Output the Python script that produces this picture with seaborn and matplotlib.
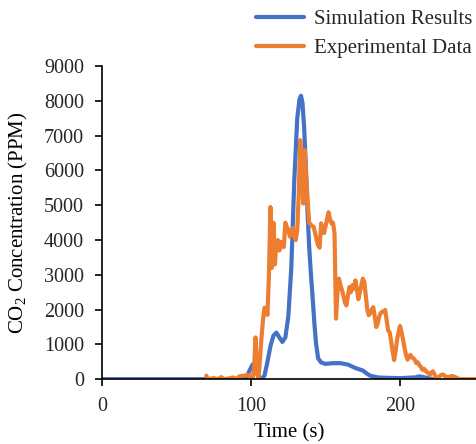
import pandas as pd
import matplotlib.pyplot as plt
import seaborn as sns

# data
sim_time = [0, 95, 97, 99, 101, 103, 105, 107, 109, 111, 113, 115, 117, 119, 121, 123,
            125, 127, 129, 131, 132.5, 133.5, 134.5, 135.6, 136.7, 137.8, 139, 140.2, 141.4,
            142.5, 143.6, 145, 147, 150, 155, 160, 165, 170, 175, 178, 180, 185, 190, 200,
            210, 213, 218, 222]
sim_co2 = [0, 0, 50, 250, 420, 300, 50, 20, 100, 500, 950, 1250, 1340, 1200, 1070, 1200,
           1800, 3200, 5700, 7500, 8050, 8150, 7950, 7250, 6200, 4900, 3800, 3000, 2300,
           1600, 1030, 600, 480, 440, 460, 460, 420, 320, 250, 150, 100, 50, 40, 30,
           50, 80, 40, 0]

exp_time = [70, 71, 75, 78, 80, 82, 85, 88, 90, 92, 95, 98, 100, 101, 102, 103, 104, 105,
            106, 107, 108, 109, 110, 111, 112, 113, 114, 115, 116, 117, 118, 119, 120, 121,
            122, 123, 124, 125, 126, 127, 128, 129, 130, 131, 132, 133, 134, 135, 136, 137,
            138, 139, 140, 141, 142, 143, 144, 145, 146, 147, 148, 149, 150, 151, 152, 153,
            154, 155, 156, 157, 158, 159, 160, 161, 162, 163, 164, 165, 166, 167, 168, 169,
            170, 171, 172, 173, 174, 175, 176, 177, 178, 179, 180, 181, 182, 183, 184, 185,
            186, 187, 188, 189, 190, 191, 192, 193, 194, 195, 196, 197, 198, 199, 200, 201,
            202, 203, 204, 205, 206, 207, 208, 209, 210, 211, 212, 213, 214, 215, 216, 217,
            218, 219, 220, 221, 222, 223, 224, 225, 226, 227, 228, 229, 230, 231, 232, 233,
            234, 235, 236, 237, 238, 239, 240, 245, 251]
exp_co2 = [100, 0, 30, 0, 60, 0, 20, 50, 0, 80, 100, 120, 60, 0, 300, 1200, 200, 0,
           600, 1200, 1700, 2050, 2050, 1850, 3000, 4950, 3200, 4500, 3300, 3900, 4000, 3700, 3950, 3850,
           3800, 4500, 4380, 4300, 4100, 4200, 4350, 4100, 4000, 4300, 5330, 6870, 6100, 5050, 6590, 5800,
           5150, 4480, 4450, 4400, 4380, 4200, 4000, 3850, 3780, 4480, 4300, 4200, 4400, 4600, 4800, 4600,
           4480, 4500, 4200, 1740, 2500, 2890, 2700, 2560, 2400, 2200, 2120, 2400, 2650, 2500, 2700, 2600,
           2840, 2600, 2300, 2500, 2700, 2890, 2800, 2400, 2000, 1840, 1900, 2000, 2070, 1800, 1500, 1600,
           1800, 1900, 1940, 1950, 1990, 1700, 1400, 1350, 1100, 800, 550, 800, 1140, 1350, 1530, 1350,
           1140, 900, 700, 560, 650, 700, 620, 600, 550, 460, 480, 400, 350, 270, 300, 250,
           200, 180, 130, 180, 230, 150, 50, 0, 60, 100, 130, 130, 90, 60, 50, 70,
           80, 90, 80, 60, 40, 20, 0, 0, 0]

sim = pd.DataFrame({"time": sim_time, "co2": sim_co2})
exp = pd.DataFrame({"time": exp_time, "co2": exp_co2})

sns.set_theme(style="white")
plt.rcParams["font.family"] = ["Liberation Serif", "DejaVu Serif"]
plt.rcParams["mathtext.fontset"] = "custom"
plt.rcParams["mathtext.rm"] = "Liberation Serif"
plt.rcParams["mathtext.it"] = "Liberation Serif:italic"

fig = plt.figure(figsize=(4.77, 4.44), dpi=100)
ax = fig.add_axes([0.214, 0.146, 0.784, 0.705])

sns.lineplot(data=sim, x="time", y="co2", ax=ax, color="#4472C4", lw=3,
             label="Simulation Results")
sns.lineplot(data=exp, x="time", y="co2", ax=ax, color="#ED7D31", lw=3,
             label="Experimental Data")

ax.set_xlim(0, 251)
ax.set_ylim(0, 9000)
ax.set_xticks([0, 100, 200])
ax.set_yticks(range(0, 9001, 1000))
ax.tick_params(axis="both", labelsize=14.5, length=5, width=1.2, color="black",
               direction="out", bottom=True, left=True)
ax.tick_params(axis="y", pad=8)
ax.tick_params(axis="x", pad=8)
for s in ["top", "right"]:
    ax.spines[s].set_visible(False)
for s in ["left", "bottom"]:
    ax.spines[s].set_color("black")
    ax.spines[s].set_linewidth(1.2)

ax.set_xlabel("Time (s)", fontsize=15, color="black", labelpad=5)
ax.set_ylabel("CO$_2$ Concentration (PPM)", fontsize=15, color="black", labelpad=10)

ax.legend(loc="lower right", bbox_to_anchor=(1.018, 0.992), frameon=False, fontsize=15,
          handlelength=2.3, handletextpad=0.5, labelspacing=0.45, borderaxespad=0.1)

plt.savefig("out.png", dpi=100)
